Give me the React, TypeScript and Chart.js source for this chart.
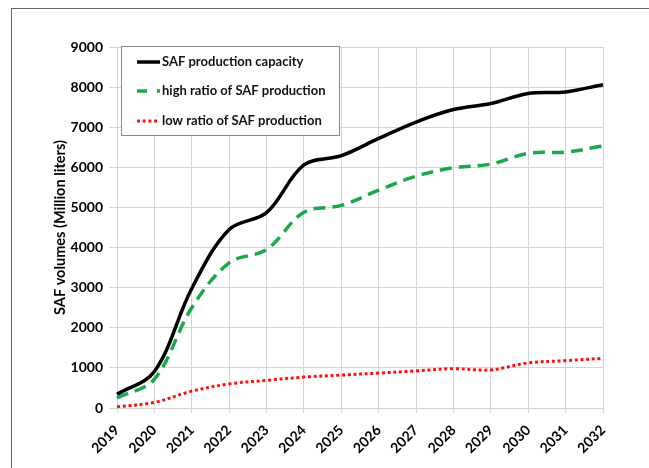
import React, { useEffect, useRef } from 'react';
import { Chart, registerables } from 'chart.js';

Chart.register(...registerables);

const years = ['2019', '2020', '2021', '2022', '2023', '2024', '2025', '2026', '2027', '2028', '2029', '2030', '2031', '2032'];
const capacity = [340, 910, 2980, 4450, 4870, 6060, 6290, 6720, 7130, 7440, 7590, 7840, 7880, 8060];
const highRatio = [250, 720, 2500, 3620, 3950, 4880, 5050, 5430, 5780, 5990, 6080, 6350, 6380, 6530];
const lowRatio = [30, 140, 420, 600, 690, 770, 820, 870, 925, 980, 950, 1125, 1180, 1240];
const seriesLabels = ['SAF production capacity', 'high ratio of SAF production', 'low ratio of SAF production'];
const yMin = 0;
const yMax = 9000;
const yStep = 1000;
const yTitle = 'SAF volumes (Million liters)';

const FONT = 'Lato, "Open Sans", "DejaVu Sans", sans-serif';
const GRID = '#d4d4d4';

const legendBox = {
  id: 'legendBox',
  afterDatasetsDraw(chart: any) {
    const { ctx, chartArea } = chart;
    const x0 = chartArea.left + 4;
    const y0 = chartArea.top - 1;
    const w = 219;
    const h = 90;
    ctx.save();
    ctx.fillStyle = '#ffffff';
    ctx.fillRect(x0, y0, w, h);
    ctx.strokeStyle = '#8a8a8a';
    ctx.lineWidth = 1;
    ctx.strokeRect(x0 + 0.5, y0 + 0.5, w - 1, h - 1);
    const rows = [16, 45, 75];
    const dashes = [[], [10, 10], [3, 2.7]];
    chart.data.datasets.forEach((ds: any, i: number) => {
      const y = y0 + rows[i];
      ctx.beginPath();
      ctx.setLineDash(dashes[i]);
      ctx.lineDashOffset = 0;
      ctx.strokeStyle = ds.borderColor;
      ctx.lineWidth = ds.borderWidth;
      ctx.lineCap = 'butt';
      ctx.moveTo(x0 + 16, y);
      ctx.lineTo(x0 + (i === 2 ? 36 : 39), y);
      ctx.stroke();
      ctx.setLineDash([]);
      ctx.fillStyle = '#111111';
      ctx.font = `bold 13px ${FONT}`;
      ctx.textBaseline = 'middle';
      ctx.textAlign = 'left';
      ctx.fillText(ds.label, x0 + 41, y);
    });
    ctx.restore();
  },
};

export default function App() {
  const ref = useRef<HTMLCanvasElement | null>(null);
  useEffect(() => {
    if (!ref.current) return;
    const chart = new Chart(ref.current, {
      type: 'line',
      data: {
        labels: years,
        datasets: [
          {
            label: seriesLabels[0],
            data: capacity,
            borderColor: '#000000',
            borderWidth: 3.5,
            pointRadius: 0,
            tension: 0.35,
            fill: false,
          },
          {
            label: seriesLabels[1],
            data: highRatio,
            borderColor: '#1aa84c',
            borderWidth: 3.5,
            borderDash: [12, 7],
            pointRadius: 0,
            tension: 0.35,
            fill: false,
          },
          {
            label: seriesLabels[2],
            data: lowRatio,
            borderColor: '#ff1010',
            borderWidth: 3,
            borderDash: [3, 2.7],
            pointRadius: 0,
            tension: 0.35,
            fill: false,
          },
        ],
      },
      options: {
        responsive: false,
        animation: false,
        layout: { padding: { left: 0, top: 47, right: 46, bottom: 0 } },
        plugins: {
          legend: { display: false },
          tooltip: { enabled: false },
        },
        scales: {
          x: {
            offset: false,
            grid: { color: GRID, tickLength: 5, drawTicks: true, offset: false },
            border: { display: true, color: GRID },
            ticks: {
              color: '#000000',
              font: { family: FONT, weight: 'bold', size: 14 },
              minRotation: 45,
              maxRotation: 45,
              padding: 9,
              autoSkip: false,
            },
            afterFit: (s: any) => {
              s.height = 60;
            },
          },
          y: {
            min: yMin,
            max: yMax,
            grid: { color: GRID, tickLength: 8, drawTicks: true },
            border: { display: true, color: GRID },
            ticks: {
              stepSize: yStep,
              color: '#000000',
              font: { family: FONT, weight: 'bold', size: 14 },
              padding: 6,
              callback: (v: any) => String(v),
            },
            title: {
              display: true,
              text: yTitle,
              color: '#000000',
              font: { family: FONT, weight: 'bold', size: 14.5 },
              padding: { top: 52, bottom: 0 },
            },
            afterFit: (s: any) => {
              s.width = 117;
            },
          },
        },
      },
      plugins: [legendBox],
    });
    return () => chart.destroy();
  }, []);

  return (
    <div style={{ position: 'fixed', left: 0, top: 0, width: 649, height: 468, background: '#ffffff' }}>
      <canvas ref={ref} width={649} height={468} style={{ position: 'absolute', left: 0, top: 0 }} />
      <div style={{ position: 'absolute', left: 11, top: 8, width: 638, height: 1, background: '#666666' }} />
      <div style={{ position: 'absolute', left: 11, top: 8, width: 1, height: 460, background: '#666666' }} />
    </div>
  );
}
